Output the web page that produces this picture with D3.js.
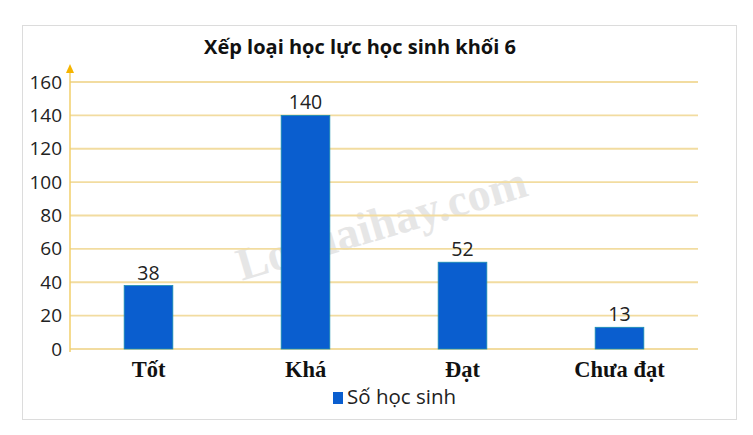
<!DOCTYPE html>
<html><head><meta charset="utf-8">
<script src="https://cdn.jsdelivr.net/npm/d3@7"></script>
<style>body{margin:0;background:#fff}svg{display:block}</style>
</head><body>
<svg id="c" width="753" height="435"></svg>
<script>
const categories = ["Tốt", "Khá", "Đạt", "Chưa đạt"];
const values = [38, 140, 52, 13];
const yTicks = [0, 20, 40, 60, 80, 100, 120, 140, 160];
const title = "Xếp loại học lực học sinh khối 6";
const seriesName = "Số học sinh";

const svg = d3.select("#c");
const sans = "'Open Sans', 'Noto Sans', sans-serif";
const serif = "'Liberation Serif', 'Times New Roman', serif";

svg.append("rect").attr("x", 22.5).attr("y", 25.5).attr("width", 714).attr("height", 394)
  .attr("fill", "#fff").attr("stroke", "#dcdcdc");

// watermark
svg.append("text").attr("transform", "translate(386,238) rotate(-16.5)")
  .attr("text-anchor", "middle").attr("font-family", serif).attr("font-weight", "bold")
  .attr("font-size", 46).attr("fill", "#e6e6e6").text("Loigiaihay.com");

const x = d3.scaleBand().domain(categories).range([70, 698]).paddingInner(0.69).paddingOuter(0.345);
const y = d3.scaleLinear().domain([0, 160]).range([349, 82]);

// gridlines
svg.append("g").selectAll("line").data(yTicks).join("line")
  .attr("x1", 70).attr("x2", 698).attr("y1", d => y(d)).attr("y2", d => y(d))
  .attr("stroke", "#f2dca0").attr("stroke-width", 1.8);

// y axis
const yAxis = d3.axisLeft(y).tickValues(yTicks).tickSize(0).tickPadding(8);
const gy = svg.append("g").attr("transform", "translate(70,0)").call(yAxis);
gy.select(".domain").remove();
gy.selectAll("text").attr("font-family", sans).attr("font-size", 19).attr("fill", "#222");
svg.append("line").attr("x1", 70).attr("x2", 70).attr("y1", 352).attr("y2", 72)
  .attr("stroke", "#f2cf6a").attr("stroke-width", 1.5);
svg.append("path").attr("d", "M70,64 L66,73 L74,73 Z").attr("fill", "#f5b400");

// bars
svg.append("g").selectAll("rect").data(values).join("rect")
  .attr("x", (d, i) => x(categories[i])).attr("width", x.bandwidth())
  .attr("y", d => y(d)).attr("height", d => y(0) - y(d))
  .attr("fill", "#0a5ecf").attr("stroke", "#1a8fb0").attr("stroke-width", 0.8);

// value labels
svg.append("g").selectAll("text").data(values).join("text")
  .attr("x", (d, i) => x(categories[i]) + x.bandwidth() / 2).attr("y", d => y(d) - 6)
  .attr("text-anchor", "middle").attr("font-family", sans).attr("font-size", 19.5).attr("fill", "#222")
  .text(d => d);

// x axis labels
const xAxis = d3.axisBottom(x).tickSize(0).tickPadding(9);
const gx = svg.append("g").attr("transform", "translate(0,352)").call(xAxis);
gx.select(".domain").remove();
gx.selectAll("text").attr("font-family", serif).attr("font-weight", "bold").attr("font-size", 22.5).attr("fill", "#111");

// title
svg.append("text").attr("x", 360).attr("y", 54).attr("text-anchor", "middle")
  .attr("font-family", sans).attr("font-weight", "bold").attr("font-size", 20).attr("fill", "#111").text(title);

// legend
svg.append("rect").attr("x", 333).attr("y", 392).attr("width", 10).attr("height", 12).attr("fill", "#0a5ecf");
svg.append("text").attr("x", 347).attr("y", 404).attr("font-family", sans).attr("font-size", 20.5)
  .attr("fill", "#222").text(seriesName);
</script>
</body></html>
